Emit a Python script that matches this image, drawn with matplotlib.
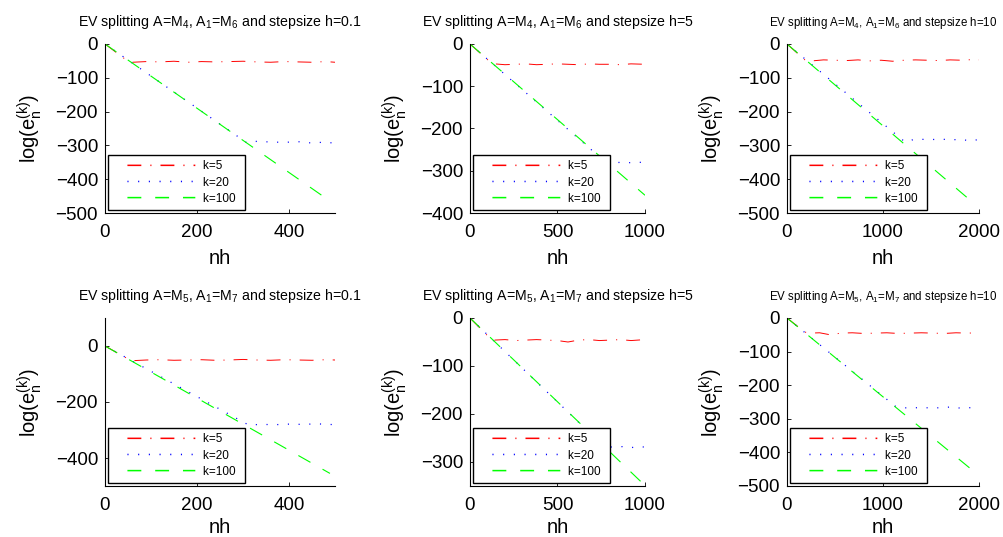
import matplotlib
matplotlib.use("Agg")
import matplotlib.pyplot as plt
from matplotlib.legend_handler import HandlerLine2D

plt.rcParams['font.family'] = ['Liberation Sans', 'DejaVu Sans']
plt.rcParams['mathtext.fontset'] = 'custom'
plt.rcParams['mathtext.rm'] = 'Liberation Sans'
plt.rcParams['mathtext.it'] = 'Liberation Sans'
plt.rcParams['mathtext.default'] = 'regular'
plt.rcParams['lines.scale_dashes'] = False

# ---------------- data ----------------
titles = [
    r'EV splitting A=M$_4$, A$_1$=M$_6$ and stepsize h=0.1',
    r'EV splitting A=M$_4$, A$_1$=M$_6$ and stepsize h=5',
    r'EV splitting A=M$_4$, A$_1$=M$_6$ and stepsize h=10',
    r'EV splitting A=M$_5$, A$_1$=M$_7$ and stepsize h=0.1',
    r'EV splitting A=M$_5$, A$_1$=M$_7$ and stepsize h=5',
    r'EV splitting A=M$_5$, A$_1$=M$_7$ and stepsize h=10',
]
labels = ['k=5', 'k=20', 'k=100']

# panel 1: A=M4, h=0.1
p1_k5_x = [0, 43, 60, 90, 120, 150, 180, 210, 240, 270, 300, 330, 360, 390, 420, 450, 480, 500]
p1_k5_y = [0, -44, -54, -52, -53, -51, -54, -52, -53, -52, -51, -53, -54, -52, -53, -54, -52, -54]
p1_k20_x = [0, 308, 330, 360, 390, 420, 450, 480, 500]
p1_k20_y = [0, -292, -288, -290, -291, -289, -293, -290, -294]
p1_k100_x = [0, 483]
p1_k100_y = [0, -459]

# panel 2: A=M4, h=5
p2_k5_x = [0, 100, 140, 200, 260, 320, 380, 440, 500, 560, 620, 680, 740, 800, 860, 920, 1000]
p2_k5_y = [0, -37, -47, -49, -48, -47, -49, -48, -47, -48, -49, -47, -48, -48, -49, -47, -48]
p2_k20_x = [0, 770, 820, 870, 920, 970, 1000]
p2_k20_y = [0, -278, -281, -280, -281, -280, -281]
p2_k100_x = [0, 1000]
p2_k100_y = [0, -358]

# panel 3: A=M4, h=10
p3_k5_x = [0, 190, 260, 380, 500, 620, 740, 860, 980, 1100, 1220, 1340, 1460, 1580, 1700, 1820, 1940, 2000]
p3_k5_y = [0, -48, -50, -47, -48, -49, -47, -50, -48, -51, -48, -47, -48, -49, -47, -48, -46, -47]
p3_k20_x = [0, 1230, 1300, 1400, 1500, 1600, 1700, 1800, 1900, 2000]
p3_k20_y = [0, -290, -284, -282, -283, -281, -284, -282, -286, -283]
p3_k100_x = [0, 1924]
p3_k100_y = [0, -466]

# panel 4: A=M5, h=0.1
p4_k5_x = [0, 51, 65, 90, 120, 150, 180, 210, 240, 270, 300, 330, 360, 390, 420, 450, 480, 500]
p4_k5_y = [0, -47, -52, -50, -49, -51, -50, -49, -51, -50, -48, -50, -51, -49, -50, -51, -49, -50]
p4_k20_x = [0, 312, 340, 370, 400, 430, 460, 500]
p4_k20_y = [0, -282, -280, -281, -279, -280, -278, -281]
p4_k100_x = [0, 489]
p4_k100_y = [0, -455]

# panel 5: A=M5, h=5
p5_k5_x = [0, 95, 140, 200, 260, 320, 380, 440, 500, 560, 620, 680, 740, 800, 860, 920, 1000]
p5_k5_y = [0, -35, -46, -45, -47, -46, -45, -46, -47, -50, -46, -45, -47, -46, -45, -47, -45]
p5_k20_x = [0, 766, 820, 870, 920, 970, 1000]
p5_k20_y = [0, -268, -269, -268, -270, -268, -269]
p5_k100_x = [0, 994]
p5_k100_y = [0, -347]

# panel 6: A=M5, h=10
p6_k5_x = [0, 187, 240, 340, 450, 560, 680, 800, 920, 1040, 1160, 1280, 1400, 1520, 1640, 1760, 1880, 2000]
p6_k5_y = [0, -42, -45, -44, -50, -45, -44, -46, -45, -44, -46, -45, -44, -45, -46, -44, -45, -44]
p6_k20_x = [0, 1125, 1200, 1300, 1400, 1500, 1600, 1700, 1800, 1900, 2000]
p6_k20_y = [0, -262, -267, -268, -266, -268, -267, -265, -268, -267, -268]
p6_k100_x = [0, 1948]
p6_k100_y = [0, -457]

panels = [
    (p1_k5_x, p1_k5_y, p1_k20_x, p1_k20_y, p1_k100_x, p1_k100_y),
    (p2_k5_x, p2_k5_y, p2_k20_x, p2_k20_y, p2_k100_x, p2_k100_y),
    (p3_k5_x, p3_k5_y, p3_k20_x, p3_k20_y, p3_k100_x, p3_k100_y),
    (p4_k5_x, p4_k5_y, p4_k20_x, p4_k20_y, p4_k100_x, p4_k100_y),
    (p5_k5_x, p5_k5_y, p5_k20_x, p5_k20_y, p5_k100_x, p5_k100_y),
    (p6_k5_x, p6_k5_y, p6_k20_x, p6_k20_y, p6_k100_x, p6_k100_y),
]

xlims = [(0, 500), (0, 1000), (0, 2000), (0, 500), (0, 1000), (0, 2000)]
ylims = [(-500, 0), (-400, 0), (-500, 0), (-500, 100), (-350, 0), (-500, 0)]
xticks = [[0, 200, 400], [0, 500, 1000], [0, 1000, 2000]] * 2
yticks = [[-500, -400, -300, -200, -100, 0],
          [-400, -300, -200, -100, 0],
          [-500, -400, -300, -200, -100, 0],
          [-400, -200, 0],
          [-300, -200, -100, 0],
          [-500, -400, -300, -200, -100, 0]]

# ---------------- layout (pixels) ----------------
W, H = 1004, 537
boxes = [(105, 44, 335, 213), (470, 44, 645, 213), (787, 44, 979, 213),
         (105, 318, 335, 486), (470, 318, 645, 486), (787, 318, 979, 486)]
title_sizes = [10.2, 10.2, 8.3, 10.2, 10.2, 8.3]
xlabel_pads = [6, 6, 6, 3, 3, 3]

colors = ['#ff0000', '#0000ff', '#00ff00']
dash_styles = [(10, 6.5, 0.8, 6.5), (0.8, 6.9), (10, 10)]
widths = [0.7, 0.9, 0.8]

fig = plt.figure(figsize=(W / 100, H / 100), dpi=100)

for i in range(6):
    x0, y0, x1, y1 = boxes[i]
    ax = fig.add_axes([x0 / W, 1 - y1 / H, (x1 - x0) / W, (y1 - y0) / H])
    k5x, k5y, k20x, k20y, k100x, k100y = panels[i]
    series = [(k5x, k5y), (k20x, k20y), (k100x, k100y)]
    lines = []
    for j, (sx, sy) in enumerate(series):
        ln, = ax.plot(sx, sy, color=colors[j], lw=widths[j], dashes=dash_styles[j],
                      label=labels[j] + ' ')
        lines.append(ln)
    ax.set_xlim(*xlims[i])
    ax.set_ylim(*ylims[i])
    ax.set_xticks(xticks[i])
    ax.set_yticks(yticks[i])
    ax.spines['top'].set_visible(False)
    ax.spines['right'].set_visible(False)
    for s in ('left', 'bottom'):
        ax.spines[s].set_linewidth(0.8)
    ax.tick_params(direction='in', length=3, width=0.6, labelsize=13.5)
    ax.tick_params(axis='x', pad=8)
    ax.tick_params(axis='y', pad=5)
    ax.set_xlabel('nh', fontsize=14.5, labelpad=xlabel_pads[i])
    ax.set_ylabel(r'log(e$_n^{(k)}$)', fontsize=14.5, labelpad=8.5)
    ax.set_title(titles[i], fontsize=title_sizes[i], pad=13)
    leg = ax.legend(handles=lines, loc='lower left', fontsize=8.5, handlelength=6.95,
                    handletextpad=0.68, labelspacing=0.35, borderpad=0.45,
                    borderaxespad=0.25, fancybox=False, framealpha=1,
                    edgecolor='black',
                    handler_map={type(lines[0]): HandlerLine2D(xpad=1.2)})
    leg.get_frame().set_linewidth(1.0)
    for lh, c in zip(leg.get_lines(), colors):
        lh.set_color(c)
        lh.set_linewidth(1.1)
        lh.set_snap(False)

fig.savefig('out.png', dpi=100)
